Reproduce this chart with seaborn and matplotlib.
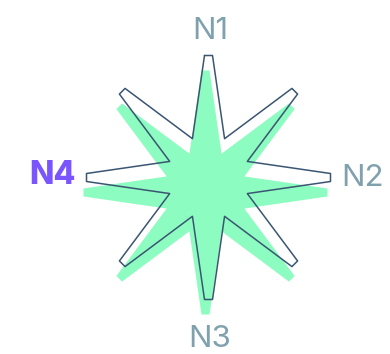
import numpy as np
import pandas as pd
import matplotlib
matplotlib.use("Agg")
import matplotlib.pyplot as plt
import seaborn as sns

# ---- data ----
directions = ["N1", "NE", "N2", "SE", "N3", "SW", "N4", "NW"]
angles_deg = [90, 45, 0, -45, -90, -135, 180, 135]
outline_tip = [122, 122, 122, 122, 122, 122, 122, 122]
outline_inner = [42, 42, 42, 42, 42, 42, 42, 42]
fill_tip = [122, 122, 122, 122, 122, 122, 122, 122]
fill_inner = [42, 42, 42, 42, 42, 42, 42, 42]
axis_labels = ["N1", "N2", "N3", "N4"]
highlight = "N4"

# ---- styles ----
TIP_HALF = 4.0
FILL_SHIFT = (-3.0, -15.0)
OUTLINE_COLOR = "#3a5673"
FILL_COLOR = "#8dfcc1"
LABEL_COLOR = "#7fa1ae"
HL_COLOR = "#7a55ff"


def star_points(tips, inners, dx=0.0, dy=0.0):
    xs, ys = [], []
    for a, rt, ri in zip(angles_deg, tips, inners):
        t = np.deg2rad(a)
        ux, uy = np.cos(t), np.sin(t)
        px, py = -uy, ux
        xs += [rt * ux + TIP_HALF * px + dx, rt * ux - TIP_HALF * px + dx]
        ys += [rt * uy + TIP_HALF * py + dy, rt * uy - TIP_HALF * py + dy]
        m = np.deg2rad(a - 22.5)
        xs.append(ri * np.cos(m) + dx)
        ys.append(ri * np.sin(m) + dy)
    return xs, ys


sns.set_theme(style="white")
plt.rcParams["font.family"] = ["Inter", "DejaVu Sans"]

W, H = 390, 354
fig = plt.figure(figsize=(W / 100, H / 100), dpi=100)
ax = fig.add_axes([0, 0, 1, 1])
cx, cy = 208.5, 177.5

fx, fy = star_points(fill_tip, fill_inner, *FILL_SHIFT)
ax.fill(fx, fy, color=FILL_COLOR, lw=0, zorder=1)

ox, oy = star_points(outline_tip, outline_inner)
ox.append(ox[0]); oy.append(oy[0])
df = pd.DataFrame({"x": ox, "y": oy})
sns.lineplot(data=df, x="x", y="y", sort=False, estimator=None,
             color=OUTLINE_COLOR, lw=1.1, ax=ax, zorder=3)
ax.set_xlim(-cx, W - cx)
ax.set_ylim(-(H - cy), cy)
ax.set_aspect("equal")
ax.axis("off")

label_pos = {"N1": (2, 138.2, "center"), "N2": (133.2, -8.2, "left"),
             "N3": (1.5, -169.2, "center"), "N4": (-132.8, -6.8, "right")}
for lab in axis_labels:
    x, y, ha = label_pos[lab]
    hl = lab == highlight
    ax.text(x, y, lab, ha=ha, va="baseline", fontsize=23 if hl else 22.5,
            color=HL_COLOR if hl else LABEL_COLOR,
            fontweight="heavy" if hl else "normal", zorder=4)

fig.savefig("out.png", dpi=100)
